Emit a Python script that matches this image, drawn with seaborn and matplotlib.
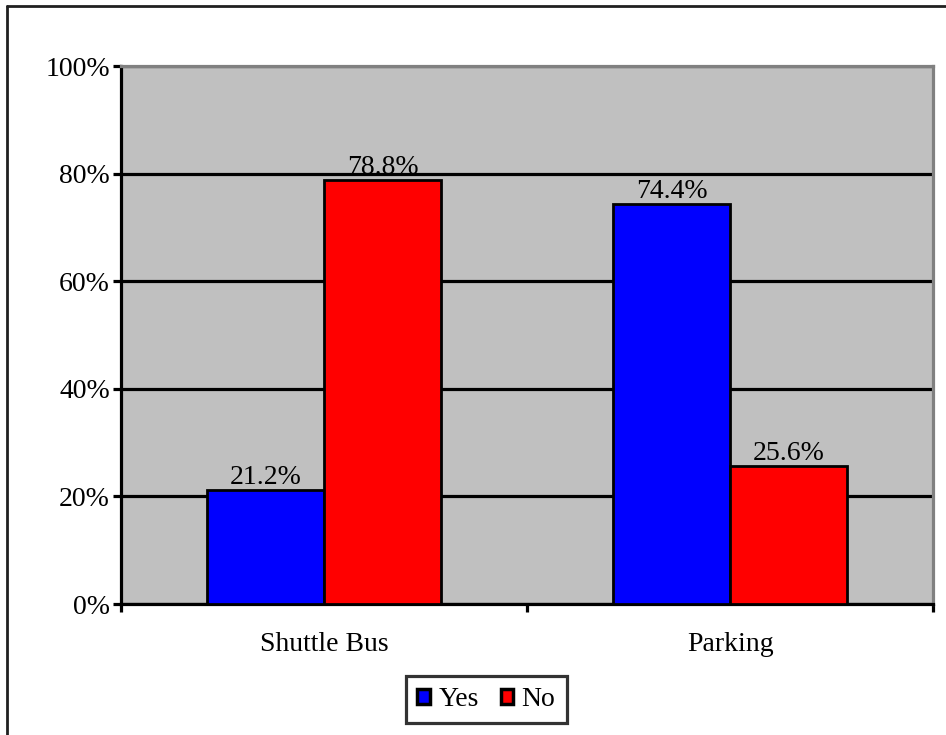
import pandas as pd
import matplotlib.pyplot as plt
import seaborn as sns
from matplotlib.ticker import FixedLocator, PercentFormatter

# data
categories = ["Shuttle Bus", "Parking"]
answers = ["Yes", "No"]
yes_pct = [21.2, 74.4]
no_pct = [78.8, 25.6]

df = pd.DataFrame({
    "category": categories * 2,
    "answer": ["Yes"] * 2 + ["No"] * 2,
    "pct": yes_pct + no_pct,
})

sns.set_style("white")
plt.rcParams["font.family"] = ["Liberation Serif", "DejaVu Serif"]
plt.rcParams["text.color"] = "black"
plt.rcParams["xtick.color"] = "black"
plt.rcParams["ytick.color"] = "black"

fig = plt.figure(figsize=(9.46, 7.35), dpi=100)
ax = fig.add_axes([0.1279, 0.1782, 0.8584, 0.732])

sns.barplot(data=df, x="category", y="pct", hue="answer", hue_order=answers,
            palette={"Yes": "#0000ff", "No": "#ff0000"}, width=0.576,
            edgecolor="black", linewidth=2, saturation=1, ax=ax, zorder=3)

ax.set_facecolor("#c0c0c0")
ax.set_ylim(0, 100)
ax.set_xlim(-0.5, 1.5)
ax.yaxis.set_major_locator(FixedLocator([0, 20, 40, 60, 80, 100]))
ax.yaxis.set_major_formatter(PercentFormatter(decimals=0))
ax.grid(axis="y", color="black", linewidth=2.3, zorder=1)
ax.set_axisbelow(True)
ax.set_xlabel("")
ax.set_ylabel("")

for side in ["left", "bottom"]:
    ax.spines[side].set_color("black")
    ax.spines[side].set_linewidth(2.3)
for side in ["top", "right"]:
    ax.spines[side].set_color("#808080")
    ax.spines[side].set_linewidth(2.3)

ax.tick_params(axis="y", which="major", direction="out", length=6, width=2.3,
               left=True, labelsize=20, pad=2)
ax.tick_params(axis="x", which="major", length=0, labelsize=20, pad=20)
ax.xaxis.set_minor_locator(FixedLocator([-0.5, 0.5, 1.5]))
ax.tick_params(axis="x", which="minor", direction="out", length=6, width=2.3,
               bottom=True)

for cont in ax.containers:
    ax.bar_label(cont, labels=[f"{v:.1f}%" for v in cont.datavalues],
                 fontsize=20, padding=0)

leg = ax.legend(loc="center", bbox_to_anchor=(0.45, -0.178), ncol=2,
                frameon=True, fancybox=False, fontsize=20,
                handlelength=0.45, handleheight=0.45, handletextpad=0.3,
                columnspacing=0.8, borderpad=0.4, borderaxespad=0)
leg.get_frame().set_edgecolor("black")
leg.get_frame().set_linewidth(2.3)
for h in leg.legend_handles:
    h.set_linewidth(2.5)

# outer chart border (left and top visible in the reference)
fig.add_artist(plt.Line2D([0.0075, 0.0075], [0, 0.992], color="#202020", lw=2,
                          transform=fig.transFigure))
fig.add_artist(plt.Line2D([0.0075, 1.0], [0.992, 0.992], color="#202020", lw=2,
                          transform=fig.transFigure))

fig.savefig("out.png", dpi=100)
